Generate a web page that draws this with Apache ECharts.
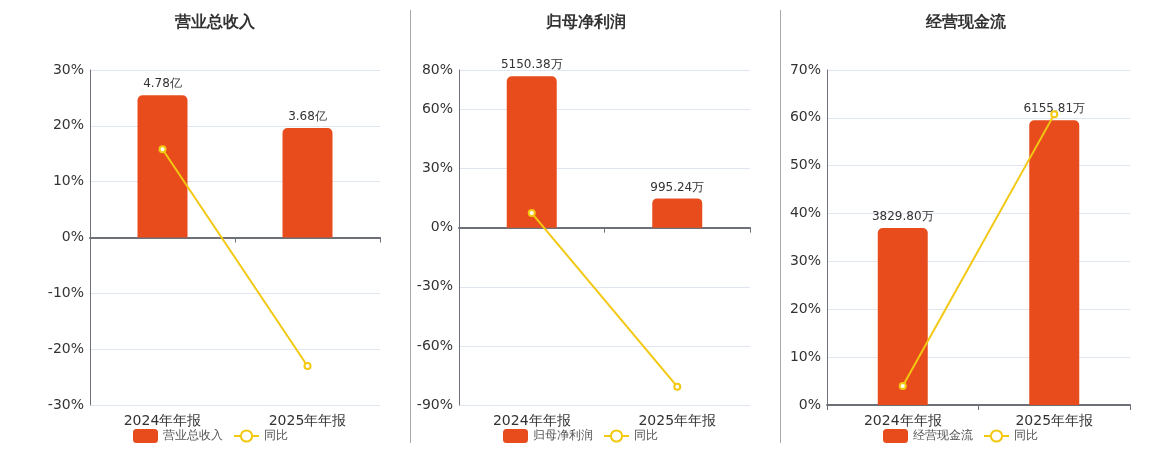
<!DOCTYPE html>
<html>
<head>
<meta charset="utf-8">
<script src="https://cdn.jsdelivr.net/npm/echarts@6/dist/echarts.min.js"></script>
<style>
html,body{margin:0;padding:0;background:#fff;}
#main{width:1160px;height:450px;}
</style>
</head>
<body>
<div id="main"></div>
<script>
const categories = ['2024年年报', '2025年年报'];
const titles = ['营业总收入', '归母净利润', '经营现金流'];
const units = ['亿', '万', '万'];
const revenue = [4.78, 3.68];
const netProfit = [5150.38, 995.24];
const cashFlow = [3829.80, 6155.81];
const revenueYoY = [15.8, -23.01];
const netProfitYoY = [7.4, -80.68];
const cashFlowYoY = [3.98, 60.73];
const pctAxisRanges = [[-30, 30, 10], [-90, 80, 30], [0, 70, 10]];
const barAxisRanges = [[-5.625, 5.625], [-6035, 5365], [0, 7245]];

const barData = [revenue, netProfit, cashFlow];
const yoyData = [revenueYoY, netProfitYoY, cashFlowYoY];

const grids = [
  {left: 90, width: 290, top: 70, bottom: 45},
  {left: 459, width: 291, top: 70, bottom: 45},
  {left: 827, width: 303, top: 70, bottom: 45}
];
const centers = [210, 581, 961];
const legendLefts = [128, 498, 878];

const option = {
  animation: false,
  backgroundColor: '#fff',
  textStyle: {fontFamily: 'DejaVu Sans, sans-serif'},
  title: [], legend: [], grid: grids, xAxis: [], yAxis: [], series: [],
  graphic: [
    {type: 'line', shape: {x1: 410.5, y1: 10, x2: 410.5, y2: 443}, style: {stroke: '#aaaaaa', lineWidth: 1}},
    {type: 'line', shape: {x1: 780.5, y1: 10, x2: 780.5, y2: 443}, style: {stroke: '#aaaaaa', lineWidth: 1}}
  ]
};

for (let i = 0; i < 3; i++) {
  option.title.push({
    text: titles[i], left: centers[i], top: 10, textAlign: 'center',
    textStyle: {fontSize: 16, fontWeight: 'bold', color: '#333'}
  });
  option.legend.push({
    left: legendLefts[i], top: 424, itemWidth: 25, itemHeight: 14, itemGap: 10,
    textStyle: {fontSize: 12, color: '#555'},
    data: [{name: titles[i], icon: 'roundRect'}, {name: '同比'}],
    selectedMode: false
  });
  // label axis (bottom)
  option.xAxis.push({
    type: 'category', gridIndex: i, data: categories, position: 'bottom',
    axisLine: {show: false, onZero: false}, axisTick: {show: false},
    axisLabel: {fontSize: 14, color: '#333', margin: 9}
  });
  // zero line axis
  option.xAxis.push({
    type: 'category', gridIndex: i, data: categories, position: 'bottom',
    axisLine: {show: true, onZero: true, onZeroAxisIndex: i * 2, lineStyle: {color: '#6E7079', width: 2}},
    axisTick: {show: true, length: 5, lineStyle: {color: '#6E7079'}},
    axisLabel: {show: false}
  });
  const r = pctAxisRanges[i];
  option.yAxis.push({
    type: 'value', gridIndex: i, min: r[0], max: r[1], interval: r[2],
    axisLine: {show: true, lineStyle: {color: '#6E7079'}},
    axisTick: {show: false},
    axisLabel: {formatter: '{value}%', fontSize: 14, color: '#333', margin: 6},
    splitLine: {lineStyle: {color: '#E0E6F1'}}
  });
  option.yAxis.push({
    type: 'value', gridIndex: i, min: barAxisRanges[i][0], max: barAxisRanges[i][1],
    show: false, splitLine: {show: false}
  });
  const unit = units[i];
  option.series.push({
    name: titles[i], type: 'bar', xAxisIndex: i * 2, yAxisIndex: i * 2 + 1,
    data: barData[i], barWidth: 50,
    itemStyle: {color: '#E84C1C', borderRadius: [5, 5, 0, 0]},
    label: {show: true, position: 'top', distance: 5, fontSize: 12, color: '#333',
      formatter: p => p.value.toFixed(2) + unit}
  });
  option.series.push({
    name: '同比', type: 'line', xAxisIndex: i * 2, yAxisIndex: i * 2,
    data: yoyData[i], symbol: 'emptyCircle', symbolSize: 6, z: 5,
    lineStyle: {color: '#F2C811', width: 2},
    itemStyle: {color: '#F2C811', borderWidth: 2}
  });
}

const chart = echarts.init(document.getElementById('main'));
chart.setOption(option);
</script>
</body>
</html>
